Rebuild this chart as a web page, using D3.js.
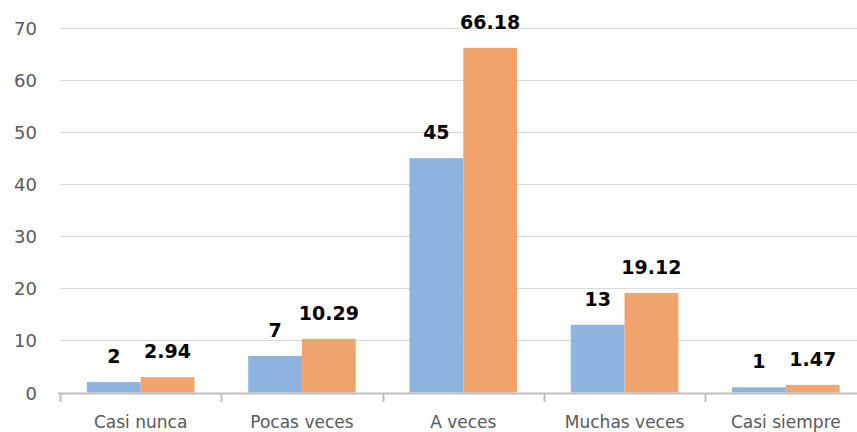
<!DOCTYPE html>
<html>
<head>
<meta charset="utf-8">
<script src="https://cdn.jsdelivr.net/npm/d3@7"></script>
<style>
  body { margin: 0; background: #fff; }
  #chart { width: 857px; height: 432px; overflow: hidden; }
</style>
</head>
<body>
<div id="chart"></div>
<script>
// data
const categories = ["Casi nunca", "Pocas veces", "A veces", "Muchas veces", "Casi siempre"];
const seriesA = [2, 7, 45, 13, 1];
const seriesB = [2.94, 10.29, 66.18, 19.12, 1.47];
const yTicks = [0, 10, 20, 30, 40, 50, 60, 70];

const colors = ["#8db4e0", "#f1a46d"];

const W = 857, H = 432;
const left = 60, bandW = 161.3;

const svg = d3.select("#chart").append("svg")
    .attr("width", W)
    .attr("height", H);

const x = d3.scaleBand()
    .domain(categories)
    .range([left, left + bandW * categories.length])
    .paddingInner(0)
    .paddingOuter(0);

const x1 = d3.scaleBand()
    .domain([0, 1])
    .range([0, x.bandwidth()])
    .paddingOuter(0.5)
    .paddingInner(0);

const y = d3.scaleLinear()
    .domain([0, 70])
    .range([392.5, 28]);

// gridlines
svg.append("g")
    .selectAll("line")
    .data(yTicks.filter(d => d > 0))
    .join("line")
    .attr("x1", left)
    .attr("x2", W)
    .attr("y1", d => Math.round(y(d)) + 0.5)
    .attr("y2", d => Math.round(y(d)) + 0.5)
    .attr("stroke", "#d9d9d9")
    .attr("stroke-width", 1);

// y labels
svg.append("g")
    .selectAll("text")
    .data(yTicks)
    .join("text")
    .attr("x", 37)
    .attr("y", d => y(d) + 7)
    .attr("text-anchor", "end")
    .style("font-family", "DejaVu Sans")
    .style("font-size", "18px")
    .style("fill", "#595959")
    .text(d => d);

// bars
const groups = svg.append("g")
    .selectAll("g")
    .data(categories)
    .join("g")
    .attr("transform", d => `translate(${x(d)},0)`);

const rows = (d, i) => [seriesA[i], seriesB[i]];

groups.selectAll("rect")
    .data(rows)
    .join("rect")
    .attr("x", (d, j) => x1(j))
    .attr("width", x1.bandwidth())
    .attr("y", d => y(d))
    .attr("height", d => y(0) - y(d))
    .attr("fill", (d, j) => colors[j]);

groups.selectAll("text")
    .data(rows)
    .join("text")
    .attr("x", (d, j) => x1(j) + x1.bandwidth() / 2)
    .attr("y", d => y(d) - 19)
    .attr("text-anchor", "middle")
    .style("font-family", "DejaVu Sans")
    .style("font-weight", "bold")
    .style("font-size", "19px")
    .style("fill", "#000")
    .text(d => d);

// x axis
const xAxis = svg.append("g");
xAxis.append("line")
    .attr("x1", left - 2)
    .attr("x2", W)
    .attr("y1", 393.5)
    .attr("y2", 393.5)
    .attr("stroke", "#bfbfbf")
    .attr("stroke-width", 2);

xAxis.selectAll(".tick")
    .data(categories)
    .join("line")
    .attr("class", "tick")
    .attr("x1", d => Math.round(x(d)) + 0.5)
    .attr("x2", d => Math.round(x(d)) + 0.5)
    .attr("y1", 393)
    .attr("y2", 402)
    .attr("stroke", "#bfbfbf")
    .attr("stroke-width", 2);

xAxis.selectAll("text")
    .data(categories)
    .join("text")
    .attr("x", d => x(d) + x.bandwidth() / 2)
    .attr("y", 428)
    .attr("text-anchor", "middle")
    .style("font-family", "DejaVu Sans")
    .style("font-size", "17px")
    .style("fill", "#595959")
    .text(d => d);
</script>
</body>
</html>
